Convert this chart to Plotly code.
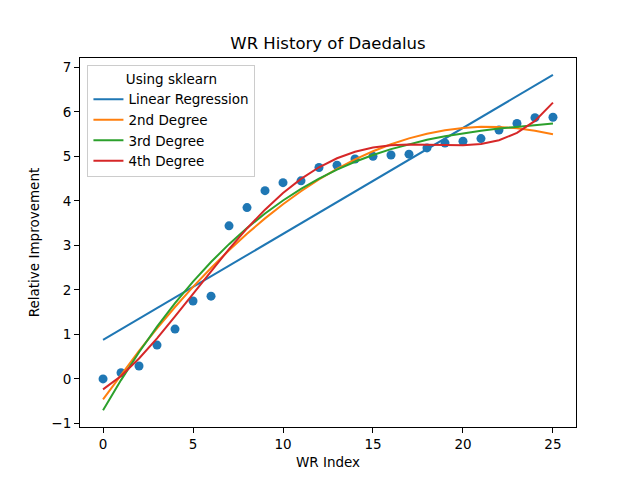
import numpy as np
import plotly.graph_objects as go

# WR index and relative improvement
wr_index = list(range(26))
improvement = [0.00, 0.14, 0.29, 0.76, 1.12, 1.75, 1.86, 3.44, 3.85, 4.23,
               4.41, 4.45, 4.75, 4.80, 4.94, 5.00, 5.03, 5.05, 5.19, 5.30,
               5.34, 5.40, 5.59, 5.74, 5.87, 5.88]

fit_names = ["Linear Regression", "2nd Degree", "3rd Degree", "4th Degree"]
fit_degrees = [1, 2, 3, 4]
fit_colors = ["#1f77b4", "#ff7f0e", "#2ca02c", "#d62728"]

x = np.array(wr_index, dtype=float)
y = np.array(improvement)

fig = go.Figure()

fig.add_trace(go.Scatter(
    x=x, y=y, mode="markers",
    marker=dict(size=9, color="#1f77b4"),
    showlegend=False,
))

# polynomial fits of the data, evaluated at the WR indices
for name, deg, col in zip(fit_names, fit_degrees, fit_colors):
    coef = np.polyfit(x, y, deg)
    fig.add_trace(go.Scatter(
        x=x, y=np.polyval(coef, x), mode="lines",
        line=dict(color=col, width=2),
        name=name,
    ))

axis_style = dict(
    showgrid=False, zeroline=False,
    showline=True, linecolor="black", linewidth=1.1, mirror=True,
    ticks="outside", ticklen=5, tickwidth=1.1, tickcolor="black",
    tickfont=dict(size=13.5, color="black"),
)

# the page body has an 8px margin, so everything is pulled up/left by 8px
fig.update_layout(
    width=640, height=480,
    paper_bgcolor="white", plot_bgcolor="white",
    font=dict(family="DejaVu Sans", color="black"),
    margin=dict(l=72, r=72, t=49.6, b=60.8),
    title=dict(text="WR History of Daedalus", x=320 / 640, xanchor="center",
               y=1 - 35 / 480, yanchor="middle", font=dict(size=16.5)),
    xaxis=dict(range=[-1.28, 26.28], tickvals=[0, 5, 10, 15, 20, 25],
               title=dict(text="WR Index", font=dict(size=13.5), standoff=6),
               **axis_style),
    yaxis=dict(range=[-1.08, 7.21], tickvals=list(range(-1, 8)),
               title=dict(text="Relative Improvement", font=dict(size=13.5), standoff=8),
               **axis_style),
    legend=dict(
        title=dict(text="Using sklearn", side="top center", font=dict(size=13.5)),
        x=0.015, y=0.98, xanchor="left", yanchor="top",
        bgcolor="rgba(255,255,255,0.8)", bordercolor="#cccccc", borderwidth=1,
        font=dict(size=13.5), itemwidth=30, tracegroupgap=0,
    ),
)

fig.write_html("out.html")
